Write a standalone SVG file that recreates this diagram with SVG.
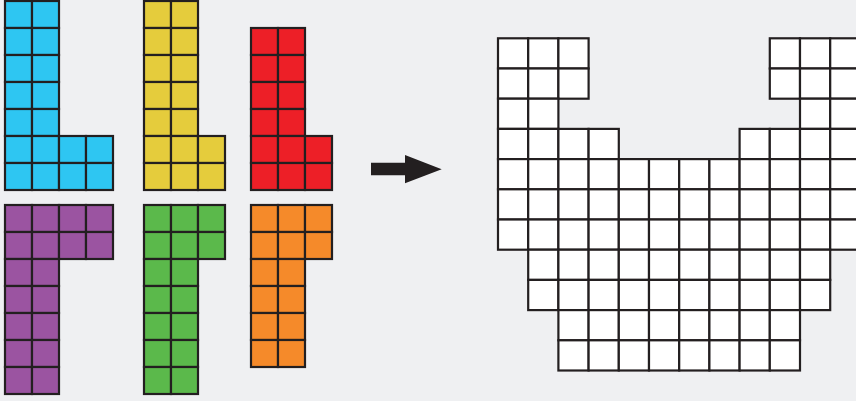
<svg xmlns="http://www.w3.org/2000/svg" width="856" height="401" viewBox="0 0 856 401">
<style>
rect.c{stroke:#231f20;stroke-width:2.2}
.s rect{width:27px;height:27px}
.big rect{width:30.2px;height:30.2px;fill:#ffffff}
.blue rect{fill:#2ec6f2}
.yellow rect{fill:#e5cc3c}
.red rect{fill:#ed1f27}
.purple rect{fill:#9b54a1}
.green rect{fill:#5bb94b}
.orange rect{fill:#f58a2a}
</style>
<rect x="0" y="0" width="856" height="401" fill="#eff0f2"/>
<g id="piece-blue" class="s blue" transform="translate(5,1)">
<rect class="c" x="0" y="0" width="27" height="27"/><rect class="c" x="27" y="0" width="27" height="27"/>
<rect class="c" x="0" y="27" width="27" height="27"/><rect class="c" x="27" y="27" width="27" height="27"/>
<rect class="c" x="0" y="54" width="27" height="27"/><rect class="c" x="27" y="54" width="27" height="27"/>
<rect class="c" x="0" y="81" width="27" height="27"/><rect class="c" x="27" y="81" width="27" height="27"/>
<rect class="c" x="0" y="108" width="27" height="27"/><rect class="c" x="27" y="108" width="27" height="27"/>
<rect class="c" x="0" y="135" width="27" height="27"/><rect class="c" x="27" y="135" width="27" height="27"/><rect class="c" x="54" y="135" width="27" height="27"/><rect class="c" x="81" y="135" width="27" height="27"/>
<rect class="c" x="0" y="162" width="27" height="27"/><rect class="c" x="27" y="162" width="27" height="27"/><rect class="c" x="54" y="162" width="27" height="27"/><rect class="c" x="81" y="162" width="27" height="27"/>
</g>
<g id="piece-yellow" class="s yellow" transform="translate(144,1)">
<rect class="c" x="0" y="0" width="27" height="27"/><rect class="c" x="27" y="0" width="27" height="27"/>
<rect class="c" x="0" y="27" width="27" height="27"/><rect class="c" x="27" y="27" width="27" height="27"/>
<rect class="c" x="0" y="54" width="27" height="27"/><rect class="c" x="27" y="54" width="27" height="27"/>
<rect class="c" x="0" y="81" width="27" height="27"/><rect class="c" x="27" y="81" width="27" height="27"/>
<rect class="c" x="0" y="108" width="27" height="27"/><rect class="c" x="27" y="108" width="27" height="27"/>
<rect class="c" x="0" y="135" width="27" height="27"/><rect class="c" x="27" y="135" width="27" height="27"/><rect class="c" x="54" y="135" width="27" height="27"/>
<rect class="c" x="0" y="162" width="27" height="27"/><rect class="c" x="27" y="162" width="27" height="27"/><rect class="c" x="54" y="162" width="27" height="27"/>
</g>
<g id="piece-red" class="s red" transform="translate(251,28)">
<rect class="c" x="0" y="0" width="27" height="27"/><rect class="c" x="27" y="0" width="27" height="27"/>
<rect class="c" x="0" y="27" width="27" height="27"/><rect class="c" x="27" y="27" width="27" height="27"/>
<rect class="c" x="0" y="54" width="27" height="27"/><rect class="c" x="27" y="54" width="27" height="27"/>
<rect class="c" x="0" y="81" width="27" height="27"/><rect class="c" x="27" y="81" width="27" height="27"/>
<rect class="c" x="0" y="108" width="27" height="27"/><rect class="c" x="27" y="108" width="27" height="27"/><rect class="c" x="54" y="108" width="27" height="27"/>
<rect class="c" x="0" y="135" width="27" height="27"/><rect class="c" x="27" y="135" width="27" height="27"/><rect class="c" x="54" y="135" width="27" height="27"/>
</g>
<g id="piece-purple" class="s purple" transform="translate(5,205)">
<rect class="c" x="0" y="0" width="27" height="27"/><rect class="c" x="27" y="0" width="27" height="27"/><rect class="c" x="54" y="0" width="27" height="27"/><rect class="c" x="81" y="0" width="27" height="27"/>
<rect class="c" x="0" y="27" width="27" height="27"/><rect class="c" x="27" y="27" width="27" height="27"/><rect class="c" x="54" y="27" width="27" height="27"/><rect class="c" x="81" y="27" width="27" height="27"/>
<rect class="c" x="0" y="54" width="27" height="27"/><rect class="c" x="27" y="54" width="27" height="27"/>
<rect class="c" x="0" y="81" width="27" height="27"/><rect class="c" x="27" y="81" width="27" height="27"/>
<rect class="c" x="0" y="108" width="27" height="27"/><rect class="c" x="27" y="108" width="27" height="27"/>
<rect class="c" x="0" y="135" width="27" height="27"/><rect class="c" x="27" y="135" width="27" height="27"/>
<rect class="c" x="0" y="162" width="27" height="27"/><rect class="c" x="27" y="162" width="27" height="27"/>
</g>
<g id="piece-green" class="s green" transform="translate(144,205)">
<rect class="c" x="0" y="0" width="27" height="27"/><rect class="c" x="27" y="0" width="27" height="27"/><rect class="c" x="54" y="0" width="27" height="27"/>
<rect class="c" x="0" y="27" width="27" height="27"/><rect class="c" x="27" y="27" width="27" height="27"/><rect class="c" x="54" y="27" width="27" height="27"/>
<rect class="c" x="0" y="54" width="27" height="27"/><rect class="c" x="27" y="54" width="27" height="27"/>
<rect class="c" x="0" y="81" width="27" height="27"/><rect class="c" x="27" y="81" width="27" height="27"/>
<rect class="c" x="0" y="108" width="27" height="27"/><rect class="c" x="27" y="108" width="27" height="27"/>
<rect class="c" x="0" y="135" width="27" height="27"/><rect class="c" x="27" y="135" width="27" height="27"/>
<rect class="c" x="0" y="162" width="27" height="27"/><rect class="c" x="27" y="162" width="27" height="27"/>
</g>
<g id="piece-orange" class="s orange" transform="translate(251,205)">
<rect class="c" x="0" y="0" width="27" height="27"/><rect class="c" x="27" y="0" width="27" height="27"/><rect class="c" x="54" y="0" width="27" height="27"/>
<rect class="c" x="0" y="27" width="27" height="27"/><rect class="c" x="27" y="27" width="27" height="27"/><rect class="c" x="54" y="27" width="27" height="27"/>
<rect class="c" x="0" y="54" width="27" height="27"/><rect class="c" x="27" y="54" width="27" height="27"/>
<rect class="c" x="0" y="81" width="27" height="27"/><rect class="c" x="27" y="81" width="27" height="27"/>
<rect class="c" x="0" y="108" width="27" height="27"/><rect class="c" x="27" y="108" width="27" height="27"/>
<rect class="c" x="0" y="135" width="27" height="27"/><rect class="c" x="27" y="135" width="27" height="27"/>
</g>
<g id="connectors">
<polygon points="371,162.7 405,162.7 405,155 441.7,169.3 405,183.3 405,175.3 371,175.3" fill="#231f20"/>
</g>
<g id="target-shape" class="big" transform="translate(498,38.3)">
<rect class="c" x="0" y="0" width="30.2" height="30.2"/><rect class="c" x="30.2" y="0" width="30.2" height="30.2"/><rect class="c" x="60.4" y="0" width="30.2" height="30.2"/>
<rect class="c" x="271.8" y="0" width="30.2" height="30.2"/><rect class="c" x="302" y="0" width="30.2" height="30.2"/><rect class="c" x="332.2" y="0" width="30.2" height="30.2"/>
<rect class="c" x="0" y="30.2" width="30.2" height="30.2"/><rect class="c" x="30.2" y="30.2" width="30.2" height="30.2"/><rect class="c" x="60.4" y="30.2" width="30.2" height="30.2"/>
<rect class="c" x="271.8" y="30.2" width="30.2" height="30.2"/><rect class="c" x="302" y="30.2" width="30.2" height="30.2"/><rect class="c" x="332.2" y="30.2" width="30.2" height="30.2"/>
<rect class="c" x="0" y="60.4" width="30.2" height="30.2"/><rect class="c" x="30.2" y="60.4" width="30.2" height="30.2"/>
<rect class="c" x="302" y="60.4" width="30.2" height="30.2"/><rect class="c" x="332.2" y="60.4" width="30.2" height="30.2"/>
<rect class="c" x="0" y="90.6" width="30.2" height="30.2"/><rect class="c" x="30.2" y="90.6" width="30.2" height="30.2"/><rect class="c" x="60.4" y="90.6" width="30.2" height="30.2"/><rect class="c" x="90.6" y="90.6" width="30.2" height="30.2"/>
<rect class="c" x="241.6" y="90.6" width="30.2" height="30.2"/><rect class="c" x="271.8" y="90.6" width="30.2" height="30.2"/><rect class="c" x="302" y="90.6" width="30.2" height="30.2"/><rect class="c" x="332.2" y="90.6" width="30.2" height="30.2"/>
<rect class="c" x="0" y="120.8" width="30.2" height="30.2"/><rect class="c" x="30.2" y="120.8" width="30.2" height="30.2"/><rect class="c" x="60.4" y="120.8" width="30.2" height="30.2"/><rect class="c" x="90.6" y="120.8" width="30.2" height="30.2"/><rect class="c" x="120.8" y="120.8" width="30.2" height="30.2"/><rect class="c" x="151" y="120.8" width="30.2" height="30.2"/><rect class="c" x="181.2" y="120.8" width="30.2" height="30.2"/><rect class="c" x="211.4" y="120.8" width="30.2" height="30.2"/><rect class="c" x="241.6" y="120.8" width="30.2" height="30.2"/><rect class="c" x="271.8" y="120.8" width="30.2" height="30.2"/><rect class="c" x="302" y="120.8" width="30.2" height="30.2"/><rect class="c" x="332.2" y="120.8" width="30.2" height="30.2"/>
<rect class="c" x="0" y="151" width="30.2" height="30.2"/><rect class="c" x="30.2" y="151" width="30.2" height="30.2"/><rect class="c" x="60.4" y="151" width="30.2" height="30.2"/><rect class="c" x="90.6" y="151" width="30.2" height="30.2"/><rect class="c" x="120.8" y="151" width="30.2" height="30.2"/><rect class="c" x="151" y="151" width="30.2" height="30.2"/><rect class="c" x="181.2" y="151" width="30.2" height="30.2"/><rect class="c" x="211.4" y="151" width="30.2" height="30.2"/><rect class="c" x="241.6" y="151" width="30.2" height="30.2"/><rect class="c" x="271.8" y="151" width="30.2" height="30.2"/><rect class="c" x="302" y="151" width="30.2" height="30.2"/><rect class="c" x="332.2" y="151" width="30.2" height="30.2"/>
<rect class="c" x="0" y="181.2" width="30.2" height="30.2"/><rect class="c" x="30.2" y="181.2" width="30.2" height="30.2"/><rect class="c" x="60.4" y="181.2" width="30.2" height="30.2"/><rect class="c" x="90.6" y="181.2" width="30.2" height="30.2"/><rect class="c" x="120.8" y="181.2" width="30.2" height="30.2"/><rect class="c" x="151" y="181.2" width="30.2" height="30.2"/><rect class="c" x="181.2" y="181.2" width="30.2" height="30.2"/><rect class="c" x="211.4" y="181.2" width="30.2" height="30.2"/><rect class="c" x="241.6" y="181.2" width="30.2" height="30.2"/><rect class="c" x="271.8" y="181.2" width="30.2" height="30.2"/><rect class="c" x="302" y="181.2" width="30.2" height="30.2"/><rect class="c" x="332.2" y="181.2" width="30.2" height="30.2"/>
<rect class="c" x="30.2" y="211.4" width="30.2" height="30.2"/><rect class="c" x="60.4" y="211.4" width="30.2" height="30.2"/><rect class="c" x="90.6" y="211.4" width="30.2" height="30.2"/><rect class="c" x="120.8" y="211.4" width="30.2" height="30.2"/><rect class="c" x="151" y="211.4" width="30.2" height="30.2"/><rect class="c" x="181.2" y="211.4" width="30.2" height="30.2"/><rect class="c" x="211.4" y="211.4" width="30.2" height="30.2"/><rect class="c" x="241.6" y="211.4" width="30.2" height="30.2"/><rect class="c" x="271.8" y="211.4" width="30.2" height="30.2"/><rect class="c" x="302" y="211.4" width="30.2" height="30.2"/>
<rect class="c" x="30.2" y="241.6" width="30.2" height="30.2"/><rect class="c" x="60.4" y="241.6" width="30.2" height="30.2"/><rect class="c" x="90.6" y="241.6" width="30.2" height="30.2"/><rect class="c" x="120.8" y="241.6" width="30.2" height="30.2"/><rect class="c" x="151" y="241.6" width="30.2" height="30.2"/><rect class="c" x="181.2" y="241.6" width="30.2" height="30.2"/><rect class="c" x="211.4" y="241.6" width="30.2" height="30.2"/><rect class="c" x="241.6" y="241.6" width="30.2" height="30.2"/><rect class="c" x="271.8" y="241.6" width="30.2" height="30.2"/><rect class="c" x="302" y="241.6" width="30.2" height="30.2"/>
<rect class="c" x="60.4" y="271.8" width="30.2" height="30.2"/><rect class="c" x="90.6" y="271.8" width="30.2" height="30.2"/><rect class="c" x="120.8" y="271.8" width="30.2" height="30.2"/><rect class="c" x="151" y="271.8" width="30.2" height="30.2"/><rect class="c" x="181.2" y="271.8" width="30.2" height="30.2"/><rect class="c" x="211.4" y="271.8" width="30.2" height="30.2"/><rect class="c" x="241.6" y="271.8" width="30.2" height="30.2"/><rect class="c" x="271.8" y="271.8" width="30.2" height="30.2"/>
<rect class="c" x="60.4" y="302" width="30.2" height="30.2"/><rect class="c" x="90.6" y="302" width="30.2" height="30.2"/><rect class="c" x="120.8" y="302" width="30.2" height="30.2"/><rect class="c" x="151" y="302" width="30.2" height="30.2"/><rect class="c" x="181.2" y="302" width="30.2" height="30.2"/><rect class="c" x="211.4" y="302" width="30.2" height="30.2"/><rect class="c" x="241.6" y="302" width="30.2" height="30.2"/><rect class="c" x="271.8" y="302" width="30.2" height="30.2"/>
</g>
</svg>
